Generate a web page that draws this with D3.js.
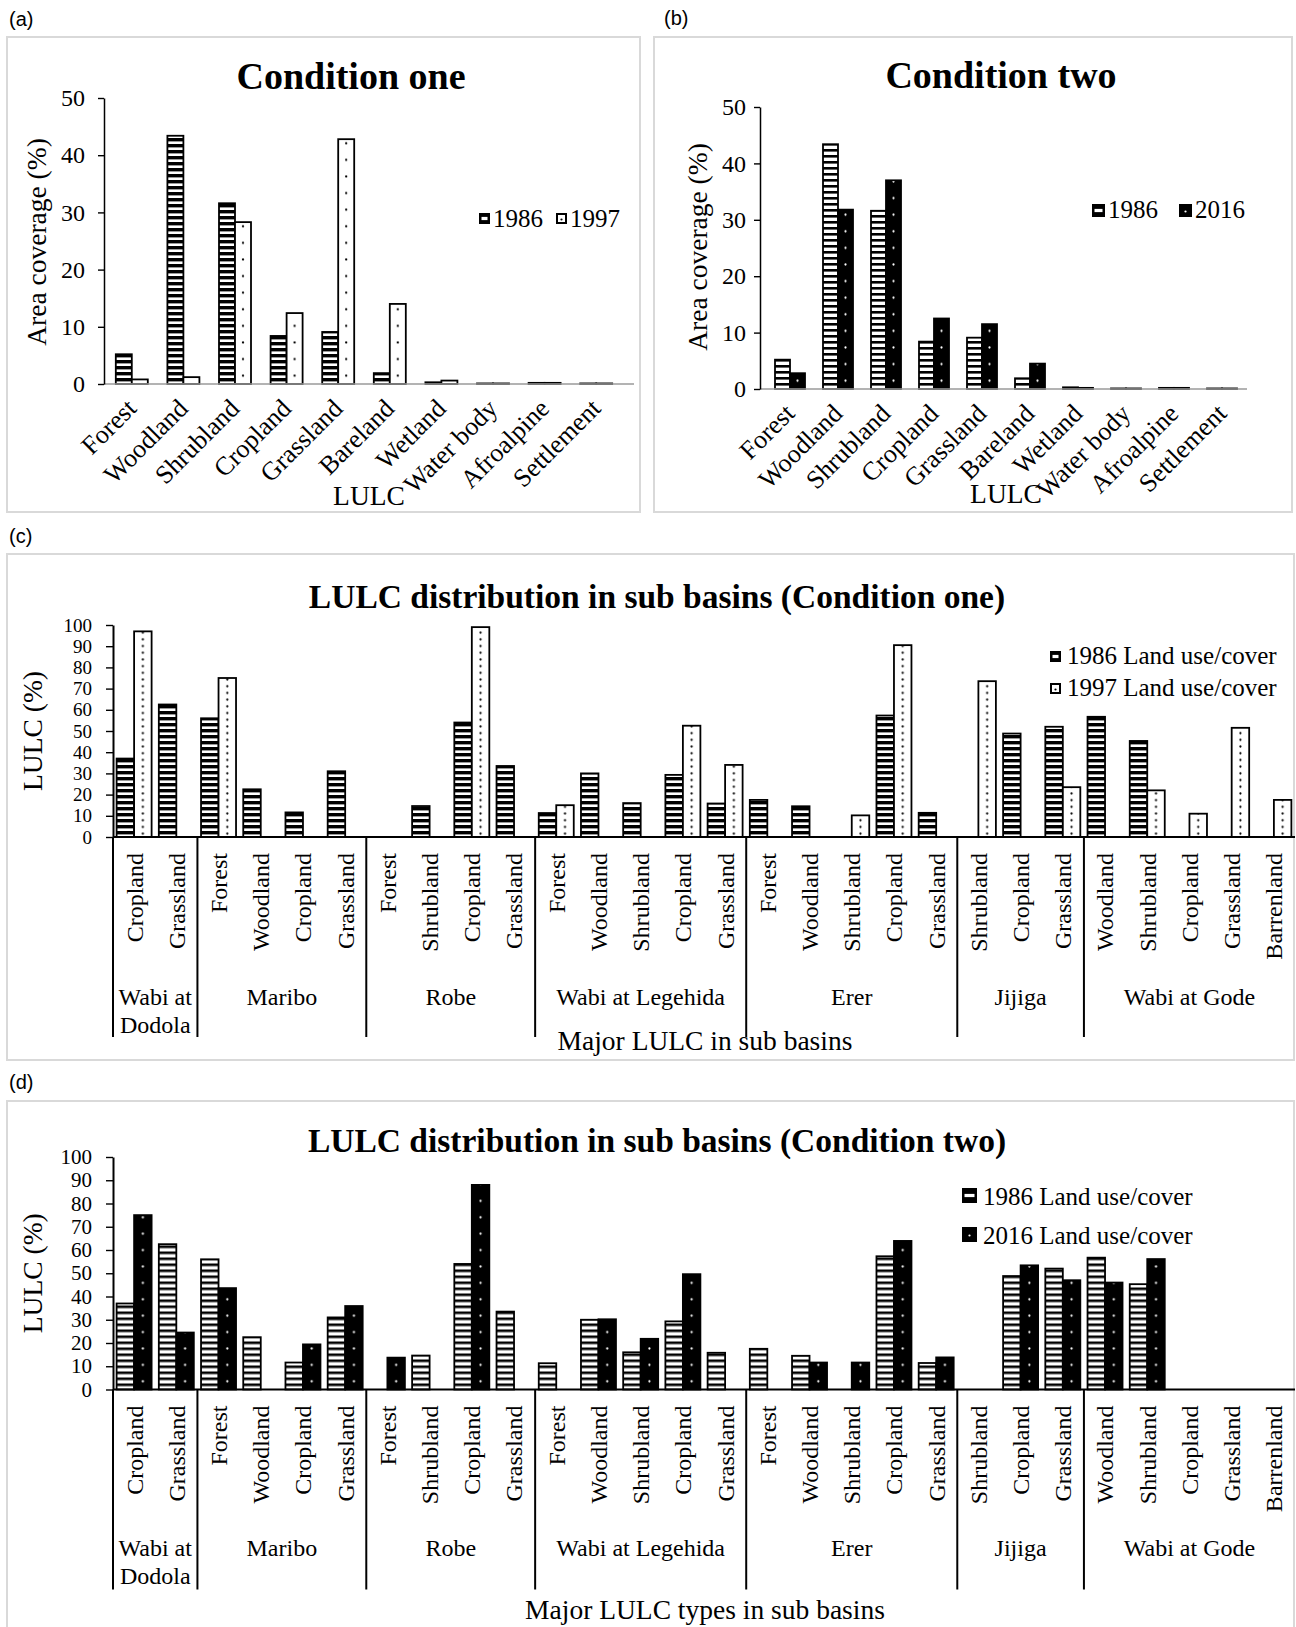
<!DOCTYPE html>
<html>
<head>
<meta charset="utf-8">
<title>LULC coverage by condition and sub basin</title>
<script src="https://d3js.org/d3.v7.min.js"></script>
<style>
  body { margin: 0; background: #fff; }
  svg text { font-family: "Liberation Serif", "Times New Roman", serif; fill: #000; }
  svg text.plabel { font-family: "Liberation Sans", Arial, sans-serif; }
</style>
</head>
<body>
<div id="chart"></div>
<script>
// ---- data ----
const lulcTypes = ["Forest", "Woodland", "Shrubland", "Cropland", "Grassland",
                   "Bareland", "Wetland", "Water body", "Afroalpine", "Settlement"];
const area1986 = [5.2, 43.4, 31.6, 8.4, 9.1, 1.9, 0.3, 0.1, 0.2, 0.1];
const area1997 = [0.8, 1.2, 28.3, 12.4, 42.8, 14.0, 0.6, 0.1, 0.2, 0.1];
const area2016 = [2.8, 31.8, 37.0, 12.5, 11.5, 4.5, 0.2, 0.1, 0.2, 0.1];
const areaTicks = [0, 10, 20, 30, 40, 50];

const basinNames = [["Wabi at", "Dodola"], ["Maribo"], ["Robe"], ["Wabi at Legehida"],
                    ["Erer"], ["Jijiga"], ["Wabi at Gode"]];
const basinSizes = [2, 4, 4, 5, 5, 3, 5];
const subTypes = ["Cropland", "Grassland",
                  "Forest", "Woodland", "Cropland", "Grassland",
                  "Forest", "Shrubland", "Cropland", "Grassland",
                  "Forest", "Woodland", "Shrubland", "Cropland", "Grassland",
                  "Forest", "Woodland", "Shrubland", "Cropland", "Grassland",
                  "Shrubland", "Cropland", "Grassland",
                  "Woodland", "Shrubland", "Cropland", "Grassland", "Barrenland"];
const sub1986 = [37, 62.5,
                 56, 22.5, 11.6, 31,
                 0, 14.6, 54, 33.5,
                 11.3, 30, 16, 29.3, 15.8,
                 17.5, 14.5, 0, 57.3, 11.4,
                 0, 48.8, 52,
                 56.7, 45.3, 0, 0, 0];
const sub1997 = [97, 0,
                 75, 0, 0, 0,
                 0, 0, 99, 0,
                 15, 0, 0, 52.5, 34,
                 0, 0, 10.2, 90.5, 0,
                 73.5, 0, 23.5,
                 0, 22, 11, 51.5, 17.5];
const sub2016 = [75, 24.5,
                 43.6, 0, 19.4, 35.9,
                 13.7, 0, 88, 0,
                 0, 30.2, 21.8, 49.6, 0,
                 0, 11.6, 11.6, 63.9, 13.8,
                 0, 53.4, 47,
                 46, 56.1, 0, 0, 0];
const subTicks = [0, 10, 20, 30, 40, 50, 60, 70, 80, 90, 100];

const SERIF = '"Liberation Serif", "Times New Roman", serif';

const svg = d3.select("#chart").append("svg")
    .attr("width", 1296).attr("height", 1627);
const defs = svg.append("defs");

// horizontal stripe fill for the 1986 bars
function stripePattern(id, y0, period, black) {
    const p = defs.append("pattern").attr("id", id)
        .attr("patternUnits", "userSpaceOnUse")
        .attr("x", 0).attr("y", y0).attr("width", 8).attr("height", period);
    p.append("rect").attr("width", 8).attr("height", period).attr("fill", "#fff");
    p.append("rect").attr("width", 8).attr("height", black).attr("fill", "#000");
}

// one column of dots per bar, repeated every category step
function dotPattern(id, x0, step, dx, y0, gap, bg, fg, r) {
    const p = defs.append("pattern").attr("id", id)
        .attr("patternUnits", "userSpaceOnUse")
        .attr("x", x0).attr("y", y0).attr("width", step).attr("height", gap);
    p.append("rect").attr("width", step).attr("height", gap).attr("fill", bg);
    p.append("circle").attr("cx", dx).attr("cy", gap / 2).attr("r", r).attr("fill", fg);
}

function panelBox(x, y, w, h, label, lx, ly) {
    svg.append("rect").attr("x", x).attr("y", y).attr("width", w).attr("height", h)
        .attr("fill", "#fff").attr("stroke", "#d9d9d9").attr("stroke-width", 2);
    svg.append("text").attr("class", "plabel").attr("x", lx).attr("y", ly)
        .attr("font-size", 20).attr("fill", "#222").text(label);
}

function swatch(g, x, y, s, kind, dark) {
    if (kind === "stripe") {
        g.append("rect").attr("x", x).attr("y", y).attr("width", s).attr("height", s).attr("fill", "#000");
        g.append("rect").attr("x", x + 2.5).attr("y", y + s / 2 - 1.6)
            .attr("width", s - 5).attr("height", 3.2).attr("fill", "#fff");
    } else {
        g.append("rect").attr("x", x + 1).attr("y", y + 1).attr("width", s - 2).attr("height", s - 2)
            .attr("fill", dark ? "#000" : "#fff").attr("stroke", "#000").attr("stroke-width", 2);
        g.append("circle").attr("cx", x + s / 2).attr("cy", y + s / 2 + 1).attr("r", 1.1)
            .attr("fill", dark ? "#fff" : "#000");
    }
}

function styleAxis(ya, size, width) {
    ya.attr("font-family", SERIF);
    ya.select(".domain").attr("stroke", "#000").attr("stroke-width", width);
    ya.selectAll(".tick line").attr("stroke", "#000").attr("stroke-width", 1.4);
    ya.selectAll(".tick text").attr("font-size", size)
        .style("font-family", SERIF).attr("fill", "#000");
}

// ---- panels (a) and (b): national coverage ----
function drawCondition(c) {
    const g = svg.append("g");
    const x = d3.scaleBand().domain(lulcTypes).range(c.xRange);
    const y = d3.scaleLinear().domain([0, 50]).range(c.yRange);
    const bw = c.barW, mid = x.bandwidth() / 2;

    stripePattern(c.id + "-s", y(0), 6, c.black);
    dotPattern(c.id + "-d", c.xRange[0], x.step(), mid + bw / 2, y(0), 16.6,
               c.dark ? "#000" : "#fff", c.dark ? "#fff" : "#000", 1.1);

    const series = [
        { vals: area1986, fill: `url(#${c.id}-s)`, off: -bw },
        { vals: c.second, fill: `url(#${c.id}-d)`, off: 0 }
    ];
    series.forEach(s => {
        g.selectAll(null).data(lulcTypes).enter().append("rect")
            .attr("x", d => x(d) + mid + s.off)
            .attr("y", (d, i) => y(s.vals[i]))
            .attr("width", bw)
            .attr("height", (d, i) => y(0) - y(s.vals[i]))
            .attr("fill", s.fill).attr("stroke", "#000").attr("stroke-width", 1.8);
    });

    g.append("line").attr("x1", c.axisX[0]).attr("x2", c.axisX[1])
        .attr("y1", y(0)).attr("y2", y(0)).attr("stroke", "#9a9a9a").attr("stroke-width", 1.5);

    const ya = g.append("g").attr("transform", `translate(${c.axisX[0]},0)`)
        .call(d3.axisLeft(y).tickValues(areaTicks).tickSize(6).tickSizeOuter(0).tickPadding(c.pad));
    styleAxis(ya, 24, 1.5);

    g.selectAll(null).data(lulcTypes).enter().append("text")
        .attr("transform", d => `translate(${x(d) + mid + 6},${y(0) + 26}) rotate(-45)`)
        .attr("text-anchor", "end").attr("font-size", 26).text(d => d);

    g.append("text").attr("x", c.title[0]).attr("y", c.title[1]).attr("text-anchor", "middle")
        .attr("font-size", 38).attr("font-weight", "bold").text(c.titleText);
    g.append("text").attr("transform", `translate(${c.yTitle[0]},${c.yTitle[1]}) rotate(-90)`)
        .attr("text-anchor", "middle").attr("dy", "0.33em").attr("font-size", 27.5)
        .text("Area coverage (%)");
    g.append("text").attr("x", c.xTitle[0]).attr("y", c.xTitle[1]).attr("text-anchor", "middle")
        .attr("font-size", 27.5).text("LULC");

    const lg = g.append("g");
    swatch(lg, c.legend.x[0], c.legend.y, c.legend.s, "stripe", false);
    swatch(lg, c.legend.x[1], c.legend.y, c.legend.s, "dot", c.dark);
    c.legend.labels.forEach((t, i) => {
        lg.append("text").attr("x", c.legend.x[i] + c.legend.s + 3).attr("y", c.legend.base)
            .attr("font-size", 25).text(t);
    });
}

// ---- panels (c) and (d): sub basins ----
function drawSubBasins(c) {
    const g = svg.append("g");
    const x = d3.scaleBand().domain(d3.range(subTypes.length)).range([113, 1295]);
    const y = d3.scaleLinear().domain([0, 100]).range([c.y0, c.y100]);
    const bw = 17.5, mid = x.bandwidth() / 2;

    stripePattern(c.id + "-s", y(0), 6, c.black);
    dotPattern(c.id + "-d", 113, x.step(), mid + bw / 2, y(0), c.dotGap,
               c.dark ? "#000" : "#fff", c.dark ? "#fff" : "#000", 1.1);

    const series = [
        { vals: sub1986, fill: `url(#${c.id}-s)`, off: -bw },
        { vals: c.second, fill: `url(#${c.id}-d)`, off: 0 }
    ];
    series.forEach(s => {
        g.selectAll(null).data(s.vals.map((v, i) => ({ v, i })).filter(d => d.v > 0))
            .enter().append("rect")
            .attr("x", d => x(d.i) + mid + s.off)
            .attr("y", d => y(d.v))
            .attr("width", bw)
            .attr("height", d => y(0) - y(d.v))
            .attr("fill", s.fill).attr("stroke", "#000").attr("stroke-width", 1.8);
    });

    g.append("line").attr("x1", 113).attr("x2", 1295).attr("y1", y(0)).attr("y2", y(0))
        .attr("stroke", "#000").attr("stroke-width", 2);

    const ya = g.append("g").attr("transform", "translate(113,0)")
        .call(d3.axisLeft(y).tickValues(subTicks).tickSize(7).tickSizeOuter(0).tickPadding(14));
    styleAxis(ya, c.tickSize, 2);

    g.selectAll(null).data(subTypes).enter().append("text")
        .attr("transform", (d, i) => `translate(${x(i) + mid},${y(0) + 16}) rotate(-90)`)
        .attr("text-anchor", "end").attr("dy", "0.35em").attr("font-size", 24).text(d => d);

    // group separators and sub basin names
    const starts = d3.cumsum([0].concat(basinSizes)).slice(0, basinSizes.length);
    starts.forEach((s, k) => {
        const x0 = 113 + s * x.step();
        g.append("line").attr("x1", x0).attr("x2", x0).attr("y1", y(0)).attr("y2", y(0) + 200)
            .attr("stroke", "#000").attr("stroke-width", 2);
        const cx = x0 + basinSizes[k] * x.step() / 2;
        basinNames[k].forEach((line, j) => {
            g.append("text").attr("x", cx).attr("y", y(0) + c.groupDy + j * 27.5)
                .attr("text-anchor", "middle").attr("font-size", 24).text(line);
        });
    });

    g.append("text").attr("x", 657).attr("y", c.titleY).attr("text-anchor", "middle")
        .attr("font-size", 33.5).attr("font-weight", "bold").text(c.titleText);
    g.append("text").attr("transform", `translate(33,${(c.y0 + c.y100) / 2}) rotate(-90)`)
        .attr("text-anchor", "middle").attr("dy", "0.33em").attr("font-size", 27.5)
        .text("LULC (%)");
    g.append("text").attr("x", 705).attr("y", c.xTitleY).attr("text-anchor", "middle")
        .attr("font-size", 27.5).text(c.xTitleText);

    const lg = g.append("g");
    c.legend.labels.forEach((t, i) => {
        const ly = c.legend.y + i * c.legend.gap;
        swatch(lg, c.legend.x, ly, c.legend.s, i === 0 ? "stripe" : "dot", c.dark);
        lg.append("text").attr("x", c.legend.x + c.legend.s + 6).attr("y", ly + c.legend.s + 2)
            .attr("font-size", 25).text(t);
    });
}

panelBox(7, 37, 633, 475, "(a)", 9, 26);
panelBox(654, 37, 638, 475, "(b)", 664, 25);
panelBox(7, 554, 1287, 506, "(c)", 9, 543);
panelBox(7, 1101, 1287, 540, "(d)", 9, 1089);

drawCondition({
    id: "pa", xRange: [106, 622], axisX: [104, 634], yRange: [384, 98], barW: 16,
    second: area1997, dark: false, black: 3.4, pad: 13,
    titleText: "Condition one", title: [351, 89], yTitle: [37, 242], xTitle: [369, 505],
    legend: { x: [479, 556], y: 213, s: 11, base: 227, labels: ["1986", "1997"] }
});
drawCondition({
    id: "pb", xRange: [766, 1246], axisX: [760, 1247], yRange: [389, 107], barW: 15,
    second: area2016, dark: true, black: 2.6, pad: 8,
    titleText: "Condition two", title: [1001, 88], yTitle: [698, 247], xTitle: [1006, 503],
    legend: { x: [1092, 1179], y: 204, s: 13, base: 218, labels: ["1986", "2016"] }
});
drawSubBasins({
    id: "pc", y0: 837, y100: 625, second: sub1997, dark: false, black: 3.4, dotGap: 6.7,
    groupDy: 168, titleY: 608, xTitleY: 1050, tickSize: 19,
    titleText: "LULC distribution in sub basins (Condition one)",
    xTitleText: "Major LULC in sub basins",
    legend: { x: 1050, y: 651, s: 11, gap: 32, labels: ["1986 Land use/cover", "1997 Land use/cover"] }
});
drawSubBasins({
    id: "pd", y0: 1389.5, y100: 1157, second: sub2016, dark: true, black: 2.6, dotGap: 16.4,
    groupDy: 166.5, titleY: 1152, xTitleY: 1619, tickSize: 21,
    titleText: "LULC distribution in sub basins (Condition two)",
    xTitleText: "Major LULC types in sub basins",
    legend: { x: 962, y: 1188, s: 15, gap: 39, labels: ["1986 Land use/cover", "2016 Land use/cover"] }
});
</script>
</body>
</html>
